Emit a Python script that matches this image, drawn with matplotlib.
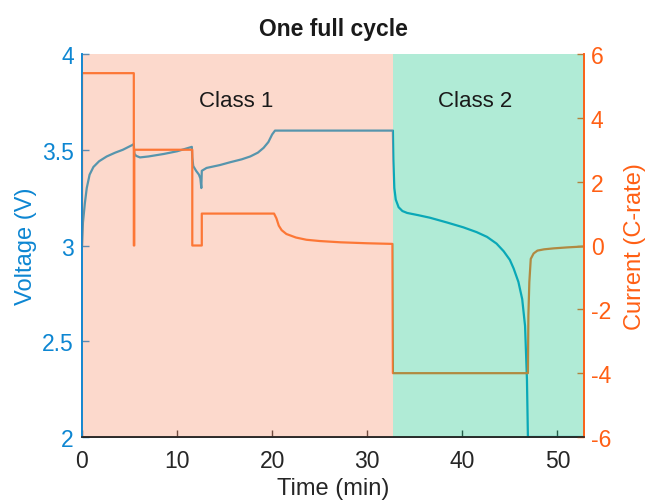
import matplotlib
matplotlib.use("Agg")
import matplotlib.pyplot as plt

plt.rcParams['font.family'] = ['Liberation Sans', 'DejaVu Sans']
plt.rcParams['axes.unicode_minus'] = False

# Voltage trace (min, V)
v_time = [0.0, 0.1, 0.3, 0.5, 0.8, 1.2, 1.8, 2.6, 3.5, 4.3, 5.3, 5.45,
          5.5, 5.7, 6.1, 7.0, 8.6, 10.0, 11.55,
          11.6, 11.7, 12.0, 12.3, 12.45, 12.55, 12.6, 13.1, 14.5, 15.6, 16.8, 17.7, 18.5, 19.1, 19.6, 20.0, 20.3,
          32.7, 32.75, 32.85, 33.0, 33.3, 33.7, 34.2, 35.4, 36.6, 38.4, 40.1, 41.5, 42.6, 43.6, 44.35, 45.0, 45.4,
          45.9, 46.3, 46.6, 46.8, 46.9, 52.8]
voltage = [3.00, 3.12, 3.22, 3.30, 3.37, 3.41, 3.44, 3.465, 3.485, 3.50, 3.525, 3.53,
           3.48, 3.468, 3.46, 3.465, 3.478, 3.492, 3.515,
           3.46, 3.415, 3.39, 3.37, 3.35, 3.30, 3.39, 3.405, 3.42, 3.435, 3.45, 3.465, 3.485, 3.51, 3.54, 3.58, 3.60,
           3.60, 3.45, 3.30, 3.24, 3.20, 3.18, 3.17, 3.158, 3.145, 3.12, 3.095, 3.07, 3.045, 3.01, 2.97, 2.925, 2.88,
           2.81, 2.72, 2.58, 2.30, 2.00, 2.00]

# Current trace (min, C-rate)
i_time = [0.0, 0.0, 5.45, 5.45, 5.5, 5.5, 11.6, 11.6, 12.6, 12.6, 20.2, 20.45, 20.7, 21.0, 21.5, 22.5, 23.6,
          25.0, 27.2, 30.0, 32.65, 32.7, 46.9, 46.95, 47.05, 47.2, 47.5, 47.9, 48.6, 49.6, 51.0, 52.8]
current = [0.0, 5.4, 5.4, 0.0, 0.0, 3.0, 3.0, 0.0, 0.0, 1.0, 1.0, 0.85, 0.62, 0.48, 0.36, 0.25, 0.18,
           0.14, 0.10, 0.07, 0.05, -4.0, -4.0, -2.2, -1.15, -0.42, -0.25, -0.16, -0.12, -0.09, -0.06, -0.03]

class_names = ["Class 1", "Class 2"]
class_spans = [(0.0, 32.7), (32.7, 52.8)]
class_label_x = [16.2, 41.4]
class_colors = ['#f9926d', '#1dc68a']

x_ticks = [0, 10, 20, 30, 40, 50]
v_ticks = [2, 2.5, 3, 3.5, 4]
v_ticklabels = ['2', '2.5', '3', '3.5', '4']
i_ticks = [-6, -4, -2, 0, 2, 4, 6]

blue_axis = '#0d86d2'
orange_axis = '#ff5f14'
v_color = '#0098d0'
i_color = '#ff6a1a'

fig = plt.figure(figsize=(6.45, 5.02), dpi=100)
ax = fig.add_axes([82/645, 1-438/502, (584-82)/645, (438-55)/502])
ax2 = ax.twinx()

ax.plot(v_time, voltage, color=v_color, lw=1.6, zorder=2)
ax2.plot(i_time, current, color=i_color, lw=1.6, zorder=2)

for (a, b), c in zip(class_spans, class_colors):
    ax2.axvspan(a, b, color=c, alpha=0.35, lw=0, zorder=3)

ax.set_xlim(0, 52.8)
ax.set_ylim(2, 4)
ax2.set_ylim(-6, 6)

ax.set_xticks(x_ticks)
ax.set_yticks(v_ticks)
ax.set_yticklabels(v_ticklabels)
ax2.set_yticks(i_ticks)

ax.tick_params(axis='x', direction='in', length=5, width=1, colors='#262626', labelsize=16.5, pad=9)
ax.tick_params(axis='y', direction='in', length=5, width=1, colors=blue_axis, labelsize=16.5, pad=6)
ax2.tick_params(axis='y', direction='in', length=5, width=1, colors=orange_axis, labelsize=16.5, pad=5)

for a in (ax, ax2):
    a.spines['top'].set_visible(False)
    a.spines['left'].set_color(blue_axis)
    a.spines['right'].set_color(orange_axis)
    a.spines['bottom'].set_color('#262626')
    for s in a.spines.values():
        s.set_linewidth(1.2)
        s.set_zorder(6)

ax.set_xlabel('Time (min)', fontsize=17, color='#262626', labelpad=3)
ax.set_ylabel('Voltage (V)', fontsize=17, color=blue_axis, labelpad=3.5)
ax2.set_ylabel('Current (C-rate)', fontsize=17, color=orange_axis, labelpad=9)
ax.set_title('One full cycle', fontsize=16.5, fontweight='bold', color='#1a1a1a', pad=14)

# class labels: placed on the top (current) axes so they sit above the shading
for name, x in zip(class_names, class_label_x):
    ax2.text(x, 4.53, name, fontsize=16, color='#1a1a1a', ha='center', va='center', zorder=7)

fig.savefig('out.png', dpi=100)
